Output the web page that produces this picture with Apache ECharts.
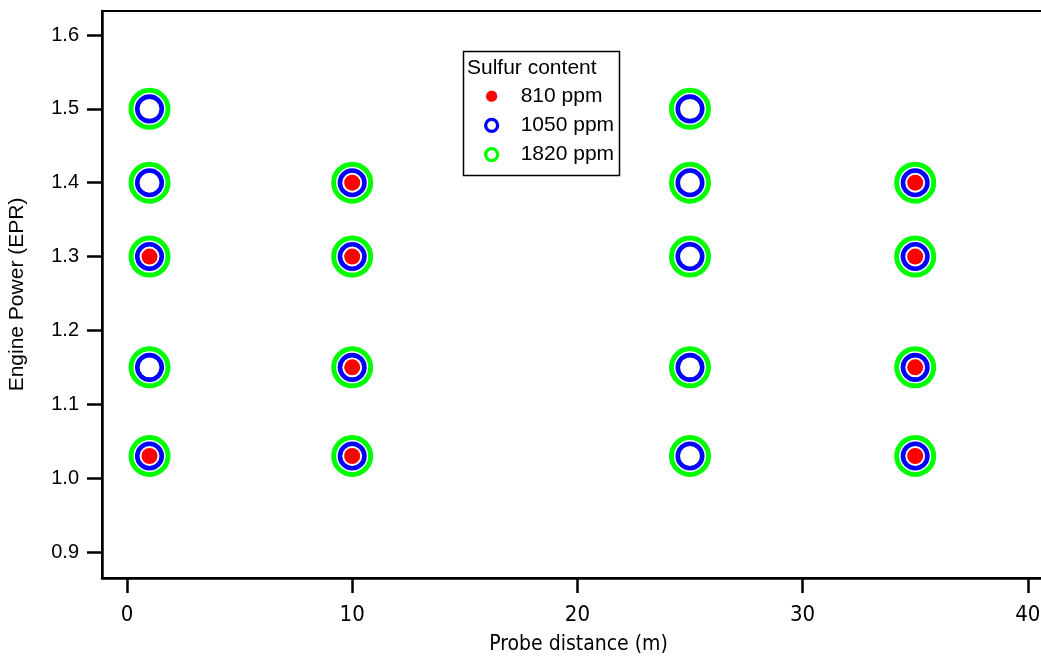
<!DOCTYPE html>
<html>
<head>
<meta charset="utf-8">
<script src="https://cdn.jsdelivr.net/npm/echarts@6/dist/echarts.min.js"></script>
<style>html,body{margin:0;padding:0;background:#fff}#c{width:1041px;height:656px}</style>
</head>
<body>
<div id="c"></div>
<script>
var xTicks = [0, 10, 20, 30, 40];
var yTicks = [0.9, 1.0, 1.1, 1.2, 1.3, 1.4, 1.5, 1.6];
var seriesNames = ['810 ppm', '1050 ppm', '1820 ppm'];
var s810 = [[1,1.3],[1,1.03],[10,1.4],[10,1.3],[10,1.15],[10,1.03],[35,1.4],[35,1.3],[35,1.15],[35,1.03]];
var s1050 = [[1,1.5],[1,1.4],[1,1.3],[1,1.15],[1,1.03],[10,1.4],[10,1.3],[10,1.15],[10,1.03],[25,1.5],[25,1.4],[25,1.3],[25,1.15],[25,1.03],[35,1.4],[35,1.3],[35,1.15],[35,1.03]];
var s1820 = [[1,1.5],[1,1.4],[1,1.3],[1,1.15],[1,1.03],[10,1.4],[10,1.3],[10,1.15],[10,1.03],[25,1.5],[25,1.4],[25,1.3],[25,1.15],[25,1.03],[35,1.4],[35,1.3],[35,1.15],[35,1.03]];

var chart = echarts.init(document.getElementById('c'), null, {renderer: 'canvas'});
var narrow = "'Liberation Sans Narrow', 'DejaVu Sans Condensed', 'Liberation Sans', Arial, sans-serif";
var sans = "'Liberation Sans', Arial, sans-serif";
chart.setOption({
  backgroundColor: '#fff',
  animation: false,
  grid: {left: 102, top: 11, right: -3, bottom: 78, show: true, borderColor: '#000', borderWidth: 2,
    backgroundColor: 'transparent', containLabel: false, outerBoundsMode: 'none'},
  xAxis: {
    type: 'value', min: -1.11, max: 40.72,
    name: 'Probe distance (m)', nameLocation: 'middle', nameGap: 56,
    nameTextStyle: {fontFamily: narrow, fontSize: 21, color: '#000', padding: [0,0,0,11]},
    axisLine: {show: true, onZero: false, lineStyle: {color: '#000', width: 2.5}},
    axisTick: {show: true, inside: false, length: 15, customValues: xTicks, lineStyle: {color: '#000', width: 2.5}},
    axisLabel: {customValues: xTicks, margin: 26, fontFamily: narrow, fontSize: 22, color: '#000'},
    splitLine: {show: false}
  },
  yAxis: {
    type: 'value', min: 0.8648, max: 1.6325,
    name: 'Engine Power (EPR)', nameLocation: 'middle', nameGap: 74,
    nameTextStyle: {fontFamily: sans, fontSize: 21, color: '#000'},
    axisLine: {show: true, onZero: false, lineStyle: {color: '#000', width: 2.5}},
    axisTick: {show: true, inside: false, length: 15, customValues: yTicks, lineStyle: {color: '#000', width: 2.5}},
    axisLabel: {customValues: yTicks, margin: 23, fontFamily: sans, fontSize: 20, color: '#000',
      formatter: function (v) { return v.toFixed(1); }},
    splitLine: {show: false}
  },
  legend: {
    orient: 'vertical', left: 484, top: 85.7, padding: 0, itemWidth: 12, itemHeight: 12, itemGap: 8.2,
    textStyle: {fontFamily: sans, fontSize: 21, color: '#000', padding: [0, 0, 0, 18]},
    data: [
      {name: seriesNames[0], icon: 'circle', itemStyle: {color: '#ff0000', borderColor: '#fff', borderWidth: 0.8}},
      {name: seriesNames[1], icon: 'circle', itemStyle: {color: '#fff', borderColor: '#0000ff', borderWidth: 3.3}},
      {name: seriesNames[2], icon: 'circle', itemStyle: {color: '#fff', borderColor: '#00ff00', borderWidth: 3.3}}
    ]
  },
  graphic: [
    {type: 'rect', left: 461, top: 49, z: 100, shape: {width: 156, height: 124}, style: {fill: 'none', stroke: '#000', lineWidth: 1.5}},
    {type: 'text', left: 467, top: 58, z: 100, style: {text: 'Sulfur content', font: "21px 'Liberation Sans', Arial, sans-serif", fill: '#000'}}
  ],
  series: [
    {name: seriesNames[2], type: 'scatter', data: s1820, symbol: 'circle', symbolSize: 37, z: 2,
      itemStyle: {color: '#fff', borderColor: '#00ff00', borderWidth: 5, opacity: 1}, emphasis: {disabled: true}},
    {name: seriesNames[1], type: 'scatter', data: s1050, symbol: 'circle', symbolSize: 24.5, z: 3,
      itemStyle: {color: '#fff', borderColor: '#0000ff', borderWidth: 4.6, opacity: 1}, emphasis: {disabled: true}},
    {name: seriesNames[0], type: 'scatter', data: s810, symbol: 'circle', symbolSize: 16, z: 4,
      itemStyle: {color: '#ff0000', opacity: 1}, emphasis: {disabled: true}}
  ]
});
</script>
</body>
</html>
